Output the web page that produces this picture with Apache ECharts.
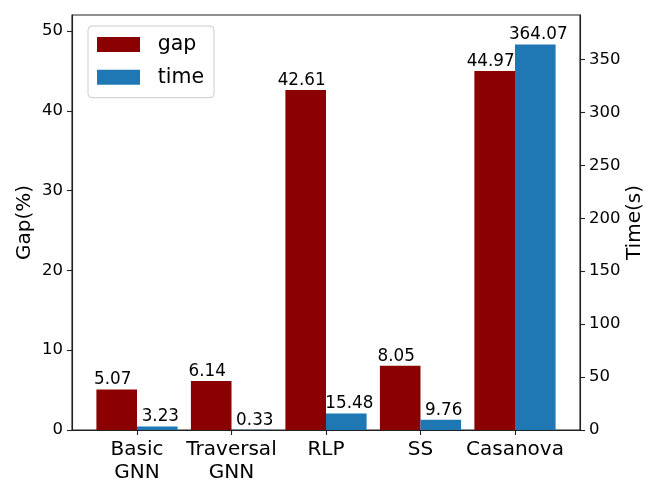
<!DOCTYPE html>
<html>
<head>
<meta charset="utf-8">
<script src="https://cdn.jsdelivr.net/npm/echarts@6/dist/echarts.min.js"></script>
<style>html,body{margin:0;padding:0;background:#fff}#c{width:664px;height:498px}</style>
</head>
<body>
<div id="c"></div>
<script>
const categories = ['Basic\nGNN', 'Traversal\nGNN', 'RLP', 'SS', 'Casanova'];
const gapValues = [5.07, 6.14, 42.61, 8.05, 44.97];
const timeValues = [3.23, 0.33, 15.48, 9.76, 364.07];
const catPositions = [0, 1, 2, 3, 4];
const seriesNames = ['gap', 'time'];

const FONT = 'DejaVu Sans';
const AX = '#222';
const chart = echarts.init(document.getElementById('c'), null, {renderer: 'canvas'});
function valueLabel(dx) {
  return {
    show: true, position: 'top', distance: 1, offset: [dx, 0], color: '#000',
    fontFamily: FONT, fontSize: 16.8,
    formatter: p => p.value[1].toFixed(2)
  };
}
chart.setOption({
  animation: false,
  backgroundColor: '#fff',
  textStyle: {fontFamily: FONT},
  grid: {left: 72, right: 84, top: 15, bottom: 68, show: true, borderColor: AX, borderWidth: 1.1, backgroundColor: 'transparent'},
  legend: {
    orient: 'vertical', left: 88, top: 26,
    padding: [8, 10, 10, 9],
    itemWidth: 43, itemHeight: 15, itemGap: 11.7,
    icon: 'rect',
    borderColor: '#ccc', borderWidth: 1, borderRadius: 4, backgroundColor: '#fff',
    textStyle: {fontFamily: FONT, fontSize: 20.5, color: '#000', lineHeight: 20, padding: [0, 0, 0, 12.7]},
    data: seriesNames
  },
  xAxis: {
    type: 'value', min: -0.688, max: 4.688,
    axisLine: {show: true, onZero: false, lineStyle: {color: AX, width: 1.1}},
    axisTick: {show: true, customValues: catPositions, length: 5, lineStyle: {color: AX, width: 1.1}},
    splitLine: {show: false},
    axisLabel: {
      customValues: catPositions, margin: 8, color: '#000', fontFamily: FONT, fontSize: 20, lineHeight: 23.3,
      formatter: v => categories[Math.round(v)]
    }
  },
  yAxis: [
    {
      type: 'value', min: 0, max: 52, interval: 10, position: 'left',
      name: 'Gap(%)', nameLocation: 'middle', nameGap: 37, nameMoveOverlap: false,
      nameTextStyle: {fontFamily: FONT, fontSize: 20, color: '#000'},
      axisLine: {show: true, onZero: false, lineStyle: {color: AX, width: 1.1}},
      axisTick: {show: true, length: 5, lineStyle: {color: AX, width: 1.1}},
      splitLine: {show: false},
      axisLabel: {margin: 9, color: '#000', fontFamily: FONT, fontSize: 16.5, showMaxLabel: false}
    },
    {
      type: 'value', min: 0, max: 392, interval: 50, position: 'right',
      name: 'Time(s)', nameLocation: 'middle', nameGap: 45, nameMoveOverlap: false,
      nameTextStyle: {fontFamily: FONT, fontSize: 20, color: '#000'},
      axisLine: {show: true, onZero: false, lineStyle: {color: AX, width: 1.1}},
      axisTick: {show: true, length: 5, lineStyle: {color: AX, width: 1.1}},
      splitLine: {show: false},
      axisLabel: {margin: 9, color: '#000', fontFamily: FONT, fontSize: 16.5, showMaxLabel: false}
    }
  ],
  series: [
    {
      name: seriesNames[0], type: 'bar', yAxisIndex: 0, barWidth: 40.6, barGap: '0%',
      itemStyle: {color: '#8b0000'},
      label: valueLabel(-4),
      data: gapValues.map((v, i) => [catPositions[i], v])
    },
    {
      name: seriesNames[1], type: 'bar', yAxisIndex: 1, barWidth: 40.6, barGap: '0%',
      itemStyle: {color: '#1f77b4'},
      label: valueLabel(3),
      data: timeValues.map((v, i) => [catPositions[i], v])
    }
  ]
});
</script>
</body>
</html>
